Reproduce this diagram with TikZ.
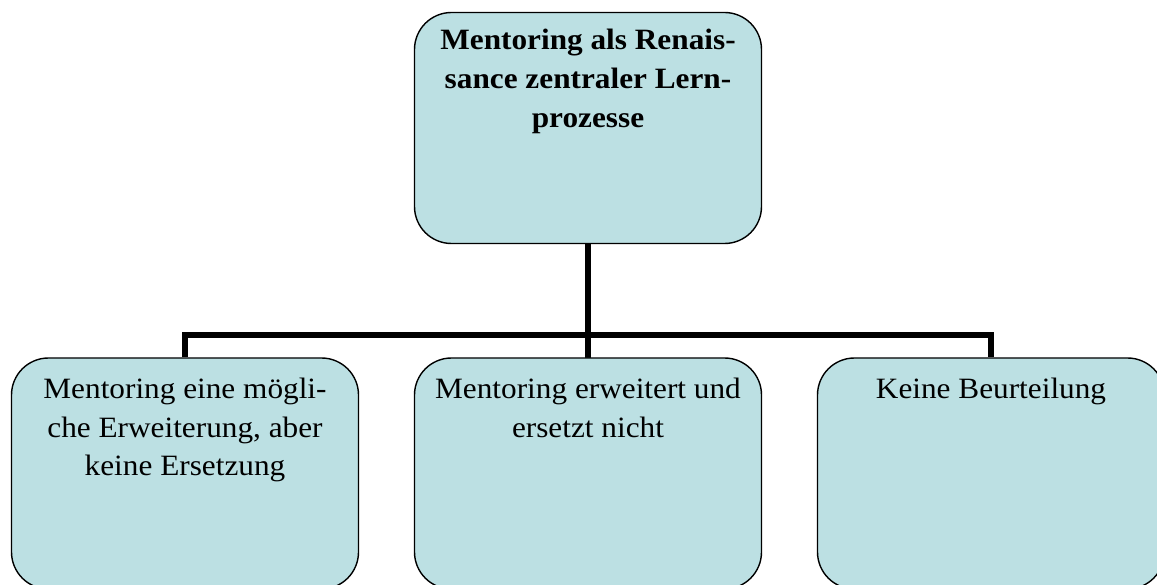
\documentclass[tikz,border=0pt]{standalone}
\usepackage{fontspec}
\setmainfont{Liberation Serif}[FakeStretch=1.06]
\definecolor{boxfill}{RGB}{188,224,227}
\begin{document}
\begin{tikzpicture}[x=1pt,y=1pt,
  chartbox/.style={draw=black, line width=1.4pt, fill=boxfill, rounded corners=37pt,
    minimum width=347pt, minimum height=231pt, inner sep=0pt},
  boxtext/.style={anchor=north, inner sep=0pt, align=center,
    font=\fontsize{29.5}{38.5}\selectfont},
  bus/.style={line width=6pt, line join=miter, line cap=rect}]
  \useasboundingbox (0,0) rectangle (1157,-585);
  % box places and the branching point of the connectors
  \coordinate (hub) at (588,-335);
  \node[chartbox, draw=none, fill=none] (top) at (588,-128) {};
  \node[chartbox, draw=none, fill=none] (left) at (185,-473.5) {};
  \node[chartbox, draw=none, fill=none] (mid) at (588,-473.5) {};
  \node[chartbox, draw=none, fill=none] (right) at (991,-473.5) {};
  % connector lines
  \draw[bus] (top.south) -- (mid.north);
  \draw[bus, line cap=butt] (left.north) |- (hub) -| (right.north);
  % boxes
  \node[chartbox] (topb) at (top) {};
  \node[chartbox] (leftb) at (left) {};
  \node[chartbox] (midb) at (mid) {};
  \node[chartbox] (rightb) at (right) {};
  % texts
  \node[boxtext, font=\fontsize{29.5}{39}\selectfont\bfseries] (toptext) at ([yshift=-17pt]topb.north)
    {Mentoring als Renais-\\sance zentraler Lern-\\prozesse};
  \node[boxtext] (lefttext) at ([yshift=-21pt]leftb.north)
    {Mentoring eine mögli-\\che Erweiterung, aber\\keine Ersetzung};
  \node[boxtext] (midtext) at ([yshift=-21pt]midb.north)
    {Mentoring erweitert und\\ersetzt nicht};
  \node[boxtext] (righttext) at ([yshift=-21pt]rightb.north)
    {Keine Beurteilung};
\end{tikzpicture}
\end{document}
